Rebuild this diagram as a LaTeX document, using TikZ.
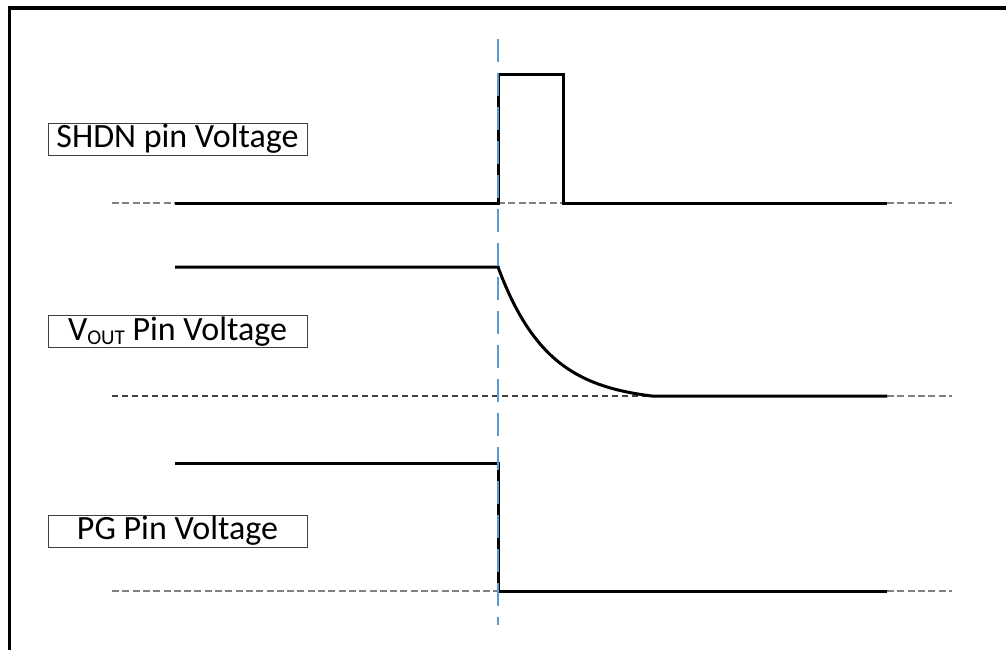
\documentclass[tikz,border=0pt]{standalone}
\usepackage{fontspec}
\setmainfont{Carlito}
\definecolor{officeblue}{HTML}{5B9BD5}
\definecolor{refgray}{HTML}{808080}
\definecolor{refdark}{HTML}{404040}
\begin{document}
\begin{tikzpicture}[x=1pt,y=-1pt,
  sig/.style={line width=3pt, line join=miter},
  refline/.style={line width=1.5pt, refgray, dash pattern=on 7pt off 3.3pt},
  refdk/.style={line width=1.5pt, refdark, dash pattern=on 6pt off 4pt},
  label/.style={draw=refdark, line width=1pt, minimum width=259pt, minimum height=32pt,
    inner sep=0pt, font=\fontsize{34}{40}\selectfont},
  marker/.style={line width=2.8pt, officeblue, dash pattern=on 23pt off 11pt}]
\fill[white] (0,0) rectangle (1006,649);
\useasboundingbox (0,0) rectangle (1006,649);
% frame
\begin{scope}
\clip (0,0) rectangle (1006,649);
\draw[line width=3.6pt, line join=miter] (9.5,660) -- (9.5,8) -- (1020,8);
\end{scope}
% labels
\node[label] (shdn) at (177.5,139) {SHDN pin Voltage};
\node[label] (vout) at (177.5,331.5) {V\raisebox{-4pt}{\fontsize{21}{23}\selectfont OUT} Pin Voltage};
\node[label] (pg) at (177.5,531) {PG Pin Voltage};
% coordinates
\coordinate (s0) at (112,203); \coordinate (s1) at (175,203); \coordinate (s2) at (498,203);
\coordinate (s3) at (498,74); \coordinate (s4) at (563,74); \coordinate (s5) at (563,203);
\coordinate (s6) at (887,203); \coordinate (s7) at (952,203);
\coordinate (v0) at (112,396); \coordinate (v1) at (175,267); \coordinate (v2) at (498,267);
\coordinate (v3) at (652,396); \coordinate (v4) at (887,396); \coordinate (v5) at (952,396);
\coordinate (p0) at (112,591); \coordinate (p1) at (175,463); \coordinate (p2) at (498,463);
\coordinate (p3) at (498,591); \coordinate (p4) at (887,591); \coordinate (p5) at (952,591);
\coordinate (m0) at (498,39); \coordinate (m1) at (498,625);
% reference dashed lines
\draw[refline] (s0) -- (s1);
\draw[refline] (s2) -- (s5);
\draw[refline] (s6) -- (s7);
\draw[refdk] (v0) -- (v3);
\draw[refline] (v4) -- (v5);
\draw[refline] (p0) -- (p3);
\draw[refline] (p4) -- (p5);
% signals
\draw[sig] (s1) -- (s2) -- (s3) -- (s4) -- (s5) -- (s6);
\draw[sig] (v1) -- (v2) -- plot[domain=498:652, samples=60, smooth] (\x, {396-129*(exp(-(\x-498)/50)-0.046)/0.954}) -- (v4);
\draw[sig] (p1) -- (p2) -- (p3) -- (p4);
% marker
\draw[marker] (m0) -- (m1);
\end{tikzpicture}
\end{document}
